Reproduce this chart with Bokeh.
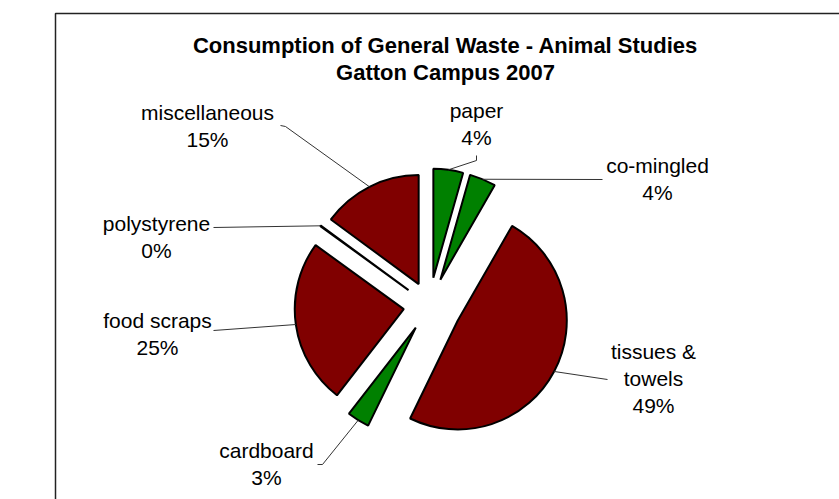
import math
from bokeh.plotting import figure
from bokeh.models import Range1d, ColumnDataSource
from bokeh.core.properties import value
from bokeh.embed import file_html
from bokeh.resources import INLINE

# ---------------- data ----------------
categories = ["paper", "co-mingled", "tissues & towels", "cardboard",
              "food scraps", "polystyrene", "miscellaneous"]
shares = [4.4, 3.9, 48.9, 3.3, 24.5, 0.1, 14.9]
pct_labels = ["4%", "4%", "49%", "3%", "25%", "0%", "15%"]
label_lines = [["paper"], ["co-mingled"], ["tissues &", "towels"], ["cardboard"],
               ["food scraps"], ["polystyrene"], ["miscellaneous"]]
title_lines = ["Consumption of General Waste - Animal Studies", "Gatton Campus 2007"]

# ---------------- styles / layout ----------------
GREEN = "#008000"
MAROON = "#800000"
colors = [GREEN, GREEN, MAROON, GREEN, MAROON, MAROON, MAROON]
explode = [28, 28, 32, 26, 26, 26, 24]           # px offset of each slice
W, H = 839, 499
SH = 499                                          # screen height for y flip
CX, CY = 429, SH - 305                            # pie centre (data coords)
R = 109
FONT = "Liberation Sans"
# label anchor: (centre x, middle y of first line) in screen px
label_pos = [(476, 110), (657, 165), (653, 351), (266, 450),
             (157, 320), (156, 223), (207, 112)]
LINE_GAP = 27
# leader start points (screen px) from label side
leader_start = [[(476, 155), (476, 160)], [(602, 179)], [(607, 379)],
                [(317, 464), (322, 464)], [(213, 330)], [(213, 227)],
                [(280, 125), (285, 126)]]

p = figure(width=W, height=H, output_backend="svg", toolbar_location=None,
           x_range=Range1d(0, W), y_range=Range1d(SH - H, SH),
           min_border=0, tools="")
p.axis.visible = False
p.grid.visible = False
p.outline_line_color = None
p.background_fill_color = "white"
p.border_fill_color = "white"

# chart frame (left & top edges visible)
p.line([55, 55, 900], [-50, SH - 13, SH - 13], line_color="#222222", line_width=1.5)

# slices
total = sum(shares)
xs, ys, sa, ea = [], [], [], []
arc_pts = []
cum = 0.0
for v, d in zip(shares, explode):
    t1 = cum / total * 360.0
    t2 = (cum + v) / total * 360.0
    cum += v
    mid = math.radians((t1 + t2) / 2)
    cx = CX + d * math.sin(mid)
    cy = CY + d * math.cos(mid)
    xs.append(cx)
    ys.append(cy)
    sa.append(math.radians(90 - t1))
    ea.append(math.radians(90 - t2))
    arc_pts.append((cx + R * math.sin(mid), cy + R * math.cos(mid)))

src = ColumnDataSource(dict(x=xs, y=ys, start=sa, end=ea, color=colors, name=categories))
p.wedge(x="x", y="y", radius=R, start_angle="start", end_angle="end",
        direction="clock", fill_color="color", line_color="black",
        line_width=2, source=src)

# leader lines
for pts, (ax, ay) in zip(leader_start, arc_pts):
    lx = [q[0] for q in pts] + [ax]
    ly = [SH - q[1] for q in pts] + [ay]
    p.line(lx, ly, line_color="#333333", line_width=1)

# labels
tx, ty, tt = [], [], []
for lines, pct, (lx, ly) in zip(label_lines, pct_labels, label_pos):
    for i, t in enumerate(lines + [pct]):
        tx.append(lx)
        ty.append(SH - (ly + i * LINE_GAP))
        tt.append(t)
p.text(x=tx, y=ty, text=tt, text_font=value(FONT), text_font_size="21px",
       text_align="center", text_baseline="middle", text_color="black")

# title
p.text(x=[445, 445], y=[SH - 45, SH - 72], text=title_lines,
       text_font=value(FONT), text_font_size="22px", text_font_style="bold",
       text_align="center", text_baseline="middle", text_color="black")

open("out.html", "w").write(file_html(p, INLINE))
